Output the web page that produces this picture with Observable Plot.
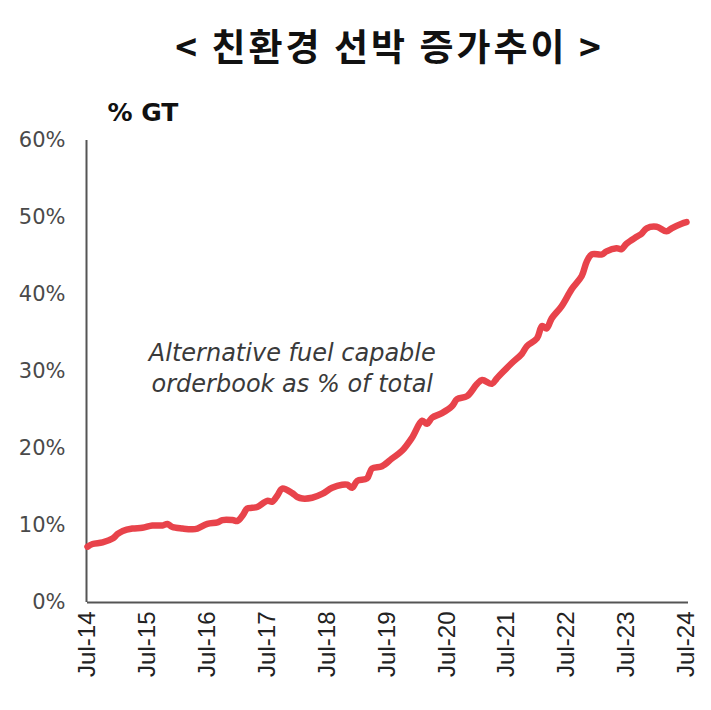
<!DOCTYPE html>
<html>
<head>
<meta charset="utf-8">
<script src="https://cdn.jsdelivr.net/npm/d3@7"></script>
<script src="https://cdn.jsdelivr.net/npm/@observablehq/plot@0.6"></script>
<style>
  html, body { margin: 0; padding: 0; background: #fff; }
  #wrap { width: 711px; height: 710px; position: relative; overflow: hidden; }
  #title { position: absolute; left: 0; top: 20px; width: 711px; padding-left: 68px; box-sizing: border-box;
           text-align: center; font-family: "Noto Sans CJK KR", sans-serif; font-weight: 700; font-size: 37px;
           letter-spacing: 3px; line-height: 50px; color: #111; }
  #chart { position: absolute; left: 0; top: 90px; }
</style>
</head>
<body>
<div id="wrap">
  <div id="title">&lt; 친환경 선박 증가추이 &gt;</div>
  <div id="chart"></div>
</div>
<script>
// Data: alternative fuel capable orderbook, % of total GT
const months = [
  "2014-07","2014-08","2014-10","2014-12","2015-01","2015-02","2015-04","2015-06","2015-08","2015-10",
  "2015-11","2015-12","2016-02","2016-04","2016-05","2016-07","2016-09","2016-10","2016-12","2017-01",
  "2017-02","2017-03","2017-04","2017-05","2017-07","2017-08","2017-09","2017-10","2017-12","2018-01",
  "2018-02","2018-04","2018-06","2018-08","2018-10","2018-11","2018-12","2019-01","2019-03","2019-04",
  "2019-06","2019-08","2019-10","2019-12","2020-02","2020-03","2020-04","2020-06","2020-08","2020-09",
  "2020-11","2021-01","2021-02","2021-04","2021-05","2021-06","2021-08","2021-10","2021-11","2022-01",
  "2022-02","2022-03","2022-04","2022-06","2022-08","2022-10","2022-11","2022-12","2023-02","2023-03",
  "2023-05","2023-06","2023-07","2023-09","2023-10","2023-11","2024-01","2024-03","2024-04","2024-06",
  "2024-07"
];
const share = [
  7.25, 7.6, 7.8, 8.3, 8.9, 9.3, 9.6, 9.7, 10.0, 10.0,
  10.2, 9.8, 9.6, 9.5, 9.6, 10.2, 10.4, 10.7, 10.7, 10.6,
  11.3, 12.2, 12.3, 12.4, 13.2, 13.1, 13.9, 14.8, 14.2, 13.7,
  13.5, 13.6, 14.1, 14.9, 15.3, 15.3, 14.9, 15.8, 16.1, 17.4,
  17.7, 18.7, 19.7, 21.4, 23.6, 23.2, 24.0, 24.6, 25.5, 26.4,
  26.8, 28.4, 28.9, 28.4, 29.1, 29.8, 31.1, 32.3, 33.3, 34.3,
  35.9, 35.6, 36.9, 38.5, 40.7, 42.4, 44.3, 45.2, 45.2, 45.6,
  46.0, 45.9, 46.6, 47.5, 47.9, 48.6, 48.8, 48.2, 48.6, 49.2,
  49.4
];
const yTicks = [0, 10, 20, 30, 40, 50, 60];
const xTickYears = [2014, 2015, 2016, 2017, 2018, 2019, 2020, 2021, 2022, 2023, 2024];
const yLabel = "% GT";
const noteText = "Alternative fuel capable\norderbook as % of total";
const noteAt = { month: "2017-12", value: 30.6 };

const parse = d3.utcParse("%Y-%m");
const rows = months.map((m, i) => ({ date: parse(m), value: share[i] }));
const xTicks = xTickYears.map(y => new Date(Date.UTC(y, 6, 1)));
const fmt = d => "Jul-" + String(d.getUTCFullYear()).slice(2);

const chart = Plot.plot({
  width: 711,
  height: 620,
  marginLeft: 87,
  marginRight: 25,
  marginTop: 50,
  marginBottom: 108,
  style: { background: "transparent", overflow: "visible" },
  x: { type: "utc", domain: [xTicks[0], xTicks[xTicks.length - 1]] },
  y: { domain: [0, 60] },
  marks: [
    Plot.axisY({ ticks: yTicks, tickSize: 0, tickPadding: 22, tickFormat: d => d + "%", label: null,
                 fontSize: 21, fontFamily: "DejaVu Sans", color: "#4a4a4a" }),
    Plot.axisX({ ticks: xTicks, tickSize: 0, tickPadding: 9, tickFormat: fmt, tickRotate: -90, label: null,
                 fontSize: 24, fontFamily: "Liberation Sans", color: "#222" }),
    Plot.ruleY([0], { stroke: "#555", strokeWidth: 2, insetRight: -2 }),
    Plot.ruleX([xTicks[0]], { stroke: "#555", strokeWidth: 2, dx: -1 }),
    Plot.line(rows, { x: "date", y: "value", stroke: "#e8434b", strokeWidth: 6.5,
                      strokeLinejoin: "round", strokeLinecap: "round", curve: "catmull-rom" }),
    Plot.text([noteAt], { x: d => parse(d.month), y: "value", text: () => noteText,
                          fontSize: 24, fontFamily: "DejaVu Sans", fontStyle: "italic", fill: "#3a3a3a",
                          lineHeight: 1.3, lineAnchor: "middle" }),
    Plot.text([yLabel], { frameAnchor: "top-left", text: d => d, dx: 20, dy: -37, textAnchor: "start",
                          fontSize: 25, fontWeight: "bold", fontFamily: "DejaVu Sans", fill: "#111" })
  ]
});
document.getElementById("chart").appendChild(chart);
</script>
</body>
</html>
